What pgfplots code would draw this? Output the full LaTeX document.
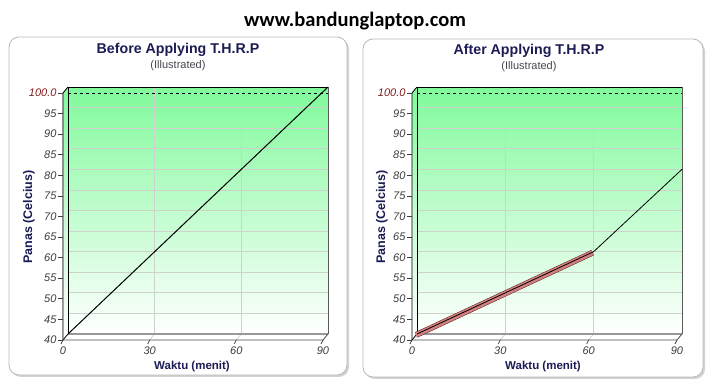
\documentclass[border=0pt]{standalone}
\usepackage{pgfplots}
\pgfplotsset{compat=1.18}
\usepackage{fontspec}
\setmainfont{Liberation Sans}
\newfontfamily\carlito{Carlito}
\usetikzlibrary{shadows}
\definecolor{navy}{RGB}{28,28,84}
\definecolor{ttl}{RGB}{70,70,80}
\definecolor{tickc}{RGB}{60,60,60}
\definecolor{redtick}{RGB}{130,30,30}
\definecolor{gtop}{RGB}{128,250,155}
\definecolor{gmid}{RGB}{200,250,212}
\definecolor{ribbon}{RGB}{212,128,128}
\definecolor{ribbonedge}{RGB}{90,35,35}
\definecolor{gridc}{RGB}{205,210,205}
\definecolor{panelc}{RGB}{185,185,185}

\pgfplotsset{
  thrp/.style={
    anchor=south west, scale only axis, clip=false,
    width=260pt, height=247pt,
    xmin=0, xmax=90, ymin=40, ymax=100,
    xtick={0,30,60,90}, ytick={40,45,...,100},
    yticklabels={40,45,50,55,60,65,70,75,80,85,90,95,\textcolor{redtick}{100.0}},
    xticklabels={0,30,60,90},
    major tick length=0pt,
    axis line style={draw=none},
    grid=major, grid style={gridc, line width=0.7pt},
    tick label style={font=\fontsize{11}{13}\selectfont\itshape, text=tickc},
    yticklabel style={xshift=-8pt, yshift=-6pt},
    xticklabel style={xshift=-5pt, yshift=-9pt},
    axis background/.style={top color=gtop, middle color=gmid, bottom color=white},
  },
}

\newcommand{\decor}{%
  % left wall
  \fill[top color=gtop, bottom color=white, middle color=gmid]
    ([xshift=-5pt,yshift=-6pt]axis cs:0,40) -- ([xshift=-5pt,yshift=-6pt]axis cs:0,100)
    -- (axis cs:0,100) -- (axis cs:0,40) -- cycle;
  % floor
  \fill[white] ([xshift=-5pt,yshift=-6pt]axis cs:0,40) -- ([xshift=-5pt,yshift=-6pt]axis cs:90,40)
    -- (axis cs:90,40) -- (axis cs:0,40) -- cycle;
  \draw[gridc, line width=0.7pt] (axis cs:30,40) -- ([xshift=-5pt,yshift=-6pt]axis cs:30,40);
  \draw[gridc, line width=0.7pt] (axis cs:60,40) -- ([xshift=-5pt,yshift=-6pt]axis cs:60,40);
  \draw[gray!80, line width=1.6pt] (axis cs:0,40) -- (axis cs:90,40);
  % edges
  \draw[black, line width=0.8pt] (axis cs:0,40) -- (axis cs:0,100) -- (axis cs:90,100);
  \draw[gray!70!black, line width=0.8pt] (axis cs:90,100) -- (axis cs:90,40);
  \draw[black, line width=0.8pt] ([xshift=-5pt,yshift=-6pt]axis cs:0,40) -- ([xshift=-5pt,yshift=-6pt]axis cs:0,100) -- (axis cs:0,100);
  \draw[black, line width=0.8pt] ([xshift=-5pt,yshift=-6pt]axis cs:0,40) -- (axis cs:0,40);
  \draw[gray!60!black, line width=0.8pt] ([xshift=-5pt,yshift=-6pt]axis cs:0,40) -- ([xshift=-5pt,yshift=-6pt]axis cs:90,40) -- (axis cs:90,40);
  % ticks
  \pgfplotsinvokeforeach{40,45,...,100}{%
    \draw[tickc, line width=0.7pt] ([xshift=-5pt,yshift=-6pt]axis cs:0,##1) -- ([xshift=-10pt,yshift=-6pt]axis cs:0,##1);
  }%
  \pgfplotsinvokeforeach{0,30,60,90}{%
    \draw[tickc, line width=0.7pt] ([xshift=-5pt,yshift=-6pt]axis cs:##1,40) -- ([xshift=-7pt,yshift=-10pt]axis cs:##1,40);
  }%
}

\begin{document}
\begin{tikzpicture}[x=1pt,y=1pt]
\path (0,0) rectangle (713,383);

% site title
\node[font=\carlito\bfseries\fontsize{20.5}{24}\selectfont] at (355,362) {www.bandunglaptop.com};

% panels
\draw[panelc, fill=white, rounded corners=10pt, line width=0.8pt,
      drop shadow={opacity=0.35, shadow xshift=2pt, shadow yshift=-2pt}] (9,8) rectangle (347,346);
\draw[panelc, fill=white, rounded corners=10pt, line width=0.8pt,
      drop shadow={opacity=0.35, shadow xshift=2pt, shadow yshift=-2pt}] (363,6) rectangle (703,344);

% titles
\node[font=\bfseries\fontsize{14.2}{17}\selectfont, text=navy] at (178,333) {Before Applying T.H.R.P};
\node[font=\fontsize{11}{13}\selectfont, text=ttl] at (178,317) {(Illustrated)};
\node[font=\bfseries\fontsize{14.2}{17}\selectfont, text=navy] at (529,332) {After Applying T.H.R.P};
\node[font=\fontsize{11}{13}\selectfont, text=ttl] at (529,316) {(Illustrated)};

% axis labels
\node[font=\bfseries\fontsize{12.5}{14}\selectfont, text=navy, rotate=90] at (29,166) {Panas (Celcius)};
\node[font=\bfseries\fontsize{11.5}{13}\selectfont, text=navy] at (192,16) {Waktu (menit)};
\node[font=\bfseries\fontsize{12.5}{14}\selectfont, text=navy, rotate=90] at (382,166) {Panas (Celcius)};
\node[font=\bfseries\fontsize{11.5}{13}\selectfont, text=navy] at (543,16) {Waktu (menit)};

% panel 1
\begin{axis}[thrp, at={(68pt,49pt)}]
\decor
\addplot[black, dashed, line width=0.7pt, yshift=-6pt] coordinates {(0,100) (90,100)};
\addplot[black, line width=1pt] coordinates {(0,40) (90,100)};
\end{axis}

% panel 2
\begin{axis}[thrp, at={(417pt,49pt)}, width=265pt]
\decor
\addplot[black, dashed, line width=0.7pt, yshift=-6pt] coordinates {(0,100) (90,100)};
\addplot[ribbonedge, line width=5.8pt, xshift=-1pt, yshift=-1pt] coordinates {(0,40) (60,60)};
\addplot[ribbon, line width=4.8pt, xshift=-1pt, yshift=-1pt] coordinates {(0,40) (60,60)};
\addplot[black, line width=0.8pt] coordinates {(0,40) (60,60) (90,80)};
\end{axis}
\end{tikzpicture}
\end{document}
